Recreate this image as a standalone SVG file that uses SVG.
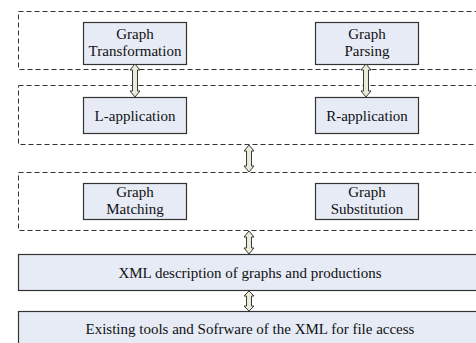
<svg xmlns="http://www.w3.org/2000/svg" width="476" height="343" viewBox="0 0 476 343">
<style>
.grp{fill:none;stroke:#333;stroke-width:1;stroke-dasharray:5,3}
.box{fill:#e6ebf6;stroke:#333;stroke-width:1.2}
.t{font-family:"Liberation Serif","Times New Roman",serif;font-size:15px;fill:#111;text-anchor:middle}
.arr{fill:#ecebd8;stroke:#3a3a3a;stroke-width:1}
</style>
<rect width="476" height="343" fill="#fff"/>
<g id="groups">
<rect id="layer1" class="grp" x="18.5" y="11.5" width="470" height="58"/>
<rect id="layer2" class="grp" x="18.5" y="85.5" width="470" height="59"/>
<rect id="layer3" class="grp" x="18.5" y="172.5" width="470" height="58"/>
</g>
<g id="graph-transformation">
<rect class="box" x="83.5" y="22.5" width="103" height="42"/>
<text class="t" x="135" y="38.5">Graph</text>
<text class="t" x="135" y="55.5">Transformation</text>
</g>
<g id="graph-parsing">
<rect class="box" x="315.5" y="22.5" width="103" height="42"/>
<text class="t" x="367" y="38.5">Graph</text>
<text class="t" x="367" y="55.5">Parsing</text>
</g>
<g id="l-application">
<rect class="box" x="83.5" y="97.5" width="103" height="36"/>
<text class="t" x="135" y="120.5">L-application</text>
</g>
<g id="r-application">
<rect class="box" x="315.5" y="97.5" width="103" height="36"/>
<text class="t" x="367" y="120.5">R-application</text>
</g>
<g id="graph-matching">
<rect class="box" x="83.5" y="183.5" width="103" height="36"/>
<text class="t" x="135" y="196.5">Graph</text>
<text class="t" x="135" y="213.5">Matching</text>
</g>
<g id="graph-substitution">
<rect class="box" x="315.5" y="183.5" width="103" height="36"/>
<text class="t" x="367" y="196.5">Graph</text>
<text class="t" x="367" y="213.5">Substitution</text>
</g>
<g id="xml-description">
<rect class="box" x="18.5" y="254.5" width="470" height="36"/>
<text class="t" x="250" y="278">XML description of graphs and productions</text>
</g>
<g id="existing-tools">
<rect class="box" x="18.5" y="311.5" width="470" height="40"/>
<text class="t" x="250" y="334">Existing tools and Sofrware of the XML for file access</text>
</g>
<g id="connectors">
<path class="arr" d="M135,64 L140,70 L137.5,70 L137.5,91 L140,91 L135,97 L130,91 L132.5,91 L132.5,70 L130,70 Z"/>
<path class="arr" d="M366,64 L371,70 L368.5,70 L368.5,91 L371,91 L366,97 L361,91 L363.5,91 L363.5,70 L361,70 Z"/>
<path class="arr" d="M249,145 L254,151 L251.5,151 L251.5,166 L254,166 L249,172 L244,166 L246.5,166 L246.5,151 L244,151 Z"/>
<path class="arr" d="M249,231 L254,237 L251.5,237 L251.5,248 L254,248 L249,254 L244,248 L246.5,248 L246.5,237 L244,237 Z"/>
<path class="arr" d="M249,291 L254,296 L251.5,296 L251.5,306 L254,306 L249,311 L244,306 L246.5,306 L246.5,296 L244,296 Z"/>
</g>
</svg>
